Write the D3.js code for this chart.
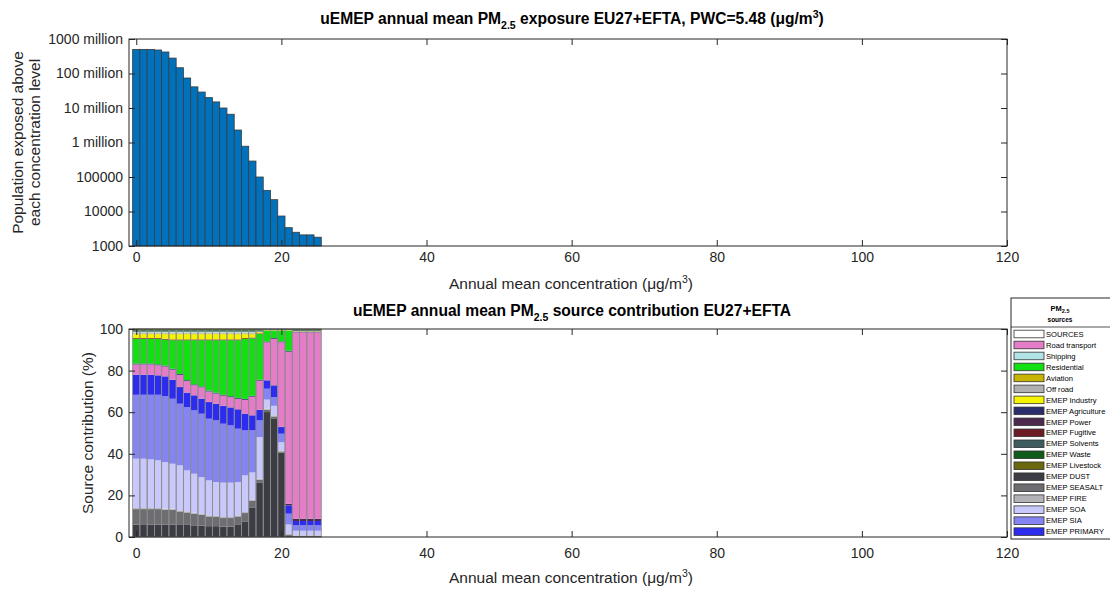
<!DOCTYPE html>
<html>
<head>
<meta charset="utf-8">
<script src="https://cdn.jsdelivr.net/npm/d3@7"></script>
<style>
  body { margin: 0; background: #fff; }
  svg { display: block; font-family: "Liberation Sans", Arial, Helvetica, sans-serif; }
  .tick text { fill: #262626; font-size: 14px; }
  .tick line { stroke: #262626; }
</style>
</head>
<body>
<div id="chart"></div>
<script>
// concentration bins (ug/m3), one bar per bin
var bins = [0, 1, 2, 3, 4, 5, 6, 7, 8, 9, 10, 11, 12, 13, 14, 15, 16, 17, 18, 19, 20, 21, 22, 23, 24, 25];

// population exposed above each concentration level
var popAbove = [5.0e8, 5.0e8, 5.0e8, 4.8e8, 4.2e8, 2.8e8, 1.47e8, 7.4e7, 4.1e7, 2.9e7, 2.0e7, 1.5e7, 1.0e7,
  6.6e6, 2.3e6, 7.8e5, 2.9e5, 1.0e5, 4.1e4, 2.2e4, 7.4e3, 3.4e3, 2.5e3, 2.1e3, 2.1e3, 1.8e3];

var xTicks = [0, 20, 40, 60, 80, 100, 120];
var popTicks = [1e3, 1e4, 1e5, 1e6, 1e7, 1e8, 1e9];
var popTickLabels = ["1000", "10000", "100000", "1 million", "10 million", "100 million", "1000 million"];
var pctTicks = [0, 20, 40, 60, 80, 100];

// source contribution per bin (%), listed bottom to top of the stack
var dust      = [6.0, 6.1, 6.0, 6.0, 6.0, 6.0, 5.8, 5.8, 5.6, 5.5, 5.2, 5.2, 5.0, 5.0, 5.8, 7.5, 14.0, 26.0, 60.0, 57.0, 40.5, 0.8, 0.4, 0.4, 0.4, 0.4];
var seasalt   = [7.4, 7.3, 7.4, 7.4, 7.1, 7.1, 6.5, 6.0, 5.6, 5.2, 4.7, 4.4, 4.1, 4.1, 4.1, 4.0, 3.5, 1.5, 1.1, 0.9, 0.6, 0.4, 0.2, 0.2, 0.2, 0.2];
var fire      = [0.5, 0.5, 0.5, 0.5, 0.5, 0.5, 0.5, 0.5, 0.5, 0.5, 0.5, 0.5, 0.5, 0.5, 0.5, 0.5, 0.5, 0.5, 0.5, 0.5, 0.5, 0.3, 0.2, 0.2, 0.2, 0.2];
var soa       = [23.7, 23.7, 23.4, 22.9, 22.4, 21.6, 21.6, 19.7, 18.7, 17.6, 16.8, 16.3, 16.5, 16.5, 16.0, 17.6, 13.0, 20.0, 4.4, 4.6, 3.9, 4.5, 2.2, 2.2, 2.2, 2.2];
var sia       = [30.7, 30.7, 31.0, 31.5, 31.7, 31.2, 29.6, 30.4, 30.4, 30.4, 29.6, 29.6, 28.3, 27.5, 25.6, 21.6, 20.2, 8.0, 5.2, 4.2, 4.1, 5.2, 2.6, 2.6, 2.6, 2.6];
var primary   = [9.6, 9.6, 9.6, 9.3, 9.4, 9.1, 8.0, 6.9, 7.2, 7.2, 8.0, 8.0, 8.5, 8.6, 9.3, 8.0, 7.2, 5.0, 4.0, 5.6, 3.2, 4.0, 2.1, 2.1, 2.1, 2.1];
var power     = [0.1, 0.1, 0.1, 0.1, 0.1, 0.1, 0.1, 0.1, 0.1, 0.1, 0.1, 0.1, 0.1, 0.1, 0.1, 0.1, 0.1, 0.1, 0.1, 0.1, 0.1, 0.8, 1.1, 1.1, 1.1, 1.1];
var road      = [4.9, 4.9, 4.9, 4.8, 4.7, 4.8, 5.8, 5.5, 4.8, 5.4, 5.0, 4.8, 4.9, 4.9, 5.0, 6.6, 8.9, 14.0, 18.2, 22.2, 40.6, 73.1, 89.6, 89.6, 89.6, 89.6];
var agri      = [0.4, 0.4, 0.4, 0.4, 0.4, 0.4, 0.4, 0.4, 0.4, 0.4, 0.4, 0.4, 0.4, 0.4, 0.4, 0.4, 0.4, 0.4, 0.4, 0.4, 0.4, 0.4, 0.2, 0.2, 0.2, 0.2];
var resid     = [11.8, 11.8, 11.8, 12.2, 12.5, 13.7, 16.2, 19.2, 21.2, 22.2, 24.2, 25.2, 26.2, 26.9, 27.7, 28.8, 27.6, 22.0, 5.2, 3.6, 5.2, 9.7, 0.1, 0.1, 0.1, 0.1];
var fugitive  = [0.4, 0.4, 0.4, 0.4, 0.4, 0.4, 0.4, 0.4, 0.4, 0.4, 0.4, 0.4, 0.4, 0.4, 0.4, 0.4, 0.4, 0.3, 0.1, 0.1, 0.1, 0.1, 0.1, 0.1, 0.1, 0.1];
var industry  = [1.9, 1.9, 1.9, 1.9, 2.2, 2.5, 2.5, 2.5, 2.5, 2.5, 2.5, 2.5, 2.5, 2.5, 2.5, 1.9, 1.6, 0.5, 0.1, 0.1, 0.1, 0.1, 0.1, 0.1, 0.1, 0.1];
var aviation  = [0.3, 0.3, 0.3, 0.3, 0.3, 0.3, 0.3, 0.3, 0.3, 0.3, 0.3, 0.3, 0.3, 0.3, 0.3, 0.3, 0.3, 0.1, 0.05, 0.05, 0.05, 0.05, 0.05, 0.05, 0.05, 0.05];
var offroad   = [0.5, 0.5, 0.5, 0.5, 0.5, 0.5, 0.5, 0.5, 0.5, 0.5, 0.5, 0.5, 0.5, 0.5, 0.5, 0.5, 0.5, 0.2, 0.05, 0.05, 0.05, 0.05, 0.05, 0.05, 0.05, 0.05];
var shipping  = [0.4, 0.4, 0.4, 0.4, 0.4, 0.4, 0.4, 0.4, 0.4, 0.4, 0.4, 0.4, 0.4, 0.4, 0.4, 0.4, 0.4, 0.1, 0.05, 0.05, 0.05, 0.05, 0.1, 0.1, 0.1, 0.1];
var solvents  = [0.5, 0.5, 0.5, 0.5, 0.5, 0.5, 0.5, 0.5, 0.5, 0.5, 0.5, 0.5, 0.5, 0.5, 0.5, 0.5, 0.5, 0.5, 0.2, 0.2, 0.2, 0.2, 0.4, 0.4, 0.4, 0.4];
var waste     = [0.4, 0.4, 0.4, 0.4, 0.4, 0.4, 0.4, 0.4, 0.4, 0.4, 0.4, 0.4, 0.4, 0.4, 0.4, 0.4, 0.4, 0.4, 0.15, 0.15, 0.15, 0.15, 0.3, 0.3, 0.3, 0.3];
var livestock = [0.4, 0.4, 0.4, 0.4, 0.4, 0.4, 0.4, 0.4, 0.4, 0.4, 0.4, 0.4, 0.4, 0.4, 0.4, 0.4, 0.4, 0.3, 0.1, 0.1, 0.1, 0.1, 0.2, 0.2, 0.2, 0.2];

var sources = [
  { name: "EMEP DUST", color: "#3c3c44", values: dust },
  { name: "EMEP SEASALT", color: "#6e6e72", values: seasalt },
  { name: "EMEP FIRE", color: "#b4b4b8", values: fire },
  { name: "EMEP SOA", color: "#c8c8fa", values: soa },
  { name: "EMEP SIA", color: "#8484f2", values: sia },
  { name: "EMEP PRIMARY", color: "#2c2cf0", values: primary },
  { name: "EMEP Power", color: "#4c2a4e", values: power },
  { name: "Road transport", color: "#e47cc8", values: road },
  { name: "EMEP Agriculture", color: "#2a2e6c", values: agri },
  { name: "Residential", color: "#12e012", values: resid },
  { name: "EMEP Fugitive", color: "#6c1c24", values: fugitive },
  { name: "EMEP Industry", color: "#f4f400", values: industry },
  { name: "Aviation", color: "#c8b400", values: aviation },
  { name: "Off road", color: "#b0b0b0", values: offroad },
  { name: "Shipping", color: "#b0e2e6", values: shipping },
  { name: "EMEP Solvents", color: "#3e5c5e", values: solvents },
  { name: "EMEP Waste", color: "#0e5c1a", values: waste },
  { name: "EMEP Livestock", color: "#6a680e", values: livestock }
];

var legendOrder = ["SOURCES", "Road transport", "Shipping", "Residential", "Aviation", "Off road",
  "EMEP Industry", "EMEP Agriculture", "EMEP Power", "EMEP Fugitive", "EMEP Solvents", "EMEP Waste",
  "EMEP Livestock", "EMEP DUST", "EMEP SEASALT", "EMEP FIRE", "EMEP SOA", "EMEP SIA", "EMEP PRIMARY"];

var svg = d3.select("#chart").append("svg").attr("width", 1110).attr("height", 592);

var left = 129, right = 1007;
var topY0 = 39, topY1 = 246, botY0 = 329, botY1 = 537;

var x = d3.scaleLinear().domain([-1, 120]).range([left, right]);
var yPop = d3.scaleLog().domain([1e3, 1e9]).range([topY1, topY0]);
var yPct = d3.scaleLinear().domain([0, 1]).range([botY1, botY0]);
var colorByName = {};
sources.forEach(function (s) { colorByName[s.name] = s.color; });
colorByName["SOURCES"] = "#ffffff";

// ---- top panel: population above level (log) ----
svg.append("g")
  .selectAll("rect")
  .data(bins)
  .enter()
  .append("rect")
  .attr("x", function (d) { return x(d - 0.5); })
  .attr("width", x(0.5) - x(-0.5))
  .attr("y", function (d, i) { return yPop(popAbove[i]); })
  .attr("height", function (d, i) { return yPop(1e3) - yPop(popAbove[i]); })
  .attr("fill", "#0072bd")
  .attr("stroke", "#3b3b3b")
  .attr("stroke-width", 0.8);

// ---- bottom panel: stacked source contribution ----
var rows = bins.map(function (b, i) {
  var r = { bin: b };
  sources.forEach(function (s) { r[s.name] = s.values[i]; });
  return r;
});
var stacked = d3.stack()
  .keys(sources.map(function (s) { return s.name; }))
  .offset(d3.stackOffsetExpand)(rows);

svg.append("g")
  .selectAll("g")
  .data(stacked)
  .enter()
  .append("g")
  .attr("fill", function (d) { return colorByName[d.key]; })
  .selectAll("rect")
  .data(function (d) { return d; })
  .enter()
  .append("rect")
  .attr("x", function (d) { return x(d.data.bin - 0.5); })
  .attr("width", x(0.5) - x(-0.5))
  .attr("y", function (d) { return yPct(d[1]); })
  .attr("height", function (d) { return yPct(d[0]) - yPct(d[1]); });

// thin grey bar outlines
svg.append("g")
  .selectAll("rect")
  .data(bins)
  .enter()
  .append("rect")
  .attr("x", function (d) { return x(d - 0.5); })
  .attr("width", x(0.5) - x(-0.5))
  .attr("y", yPct(1))
  .attr("height", yPct(0) - yPct(1))
  .attr("fill", "none")
  .attr("stroke", "#8a8a8a")
  .attr("stroke-width", 0.8);

// axes in matlab style: inward ticks, full box
function drawFrame(y, y0, y1, yTicks, yFormat, xPad) {
  var g = svg.append("g");
  g.append("g")
    .attr("transform", "translate(0," + y1 + ")")
    .call(d3.axisBottom(x).tickValues(xTicks).tickSize(-6).tickPadding(xPad))
    .call(function (a) { a.select(".domain").remove(); });
  g.append("g")
    .attr("transform", "translate(0," + y0 + ")")
    .call(d3.axisTop(x).tickValues(xTicks).tickSize(-6).tickFormat(""))
    .call(function (a) { a.select(".domain").remove(); });
  g.append("g")
    .attr("transform", "translate(" + left + ",0)")
    .call(d3.axisLeft(y).tickValues(yTicks).tickSize(-6).tickPadding(6).tickFormat(yFormat))
    .call(function (a) { a.select(".domain").remove(); });
  g.append("g")
    .attr("transform", "translate(" + right + ",0)")
    .call(d3.axisRight(y).tickValues(yTicks).tickSize(-6).tickFormat(""))
    .call(function (a) { a.select(".domain").remove(); });
  g.append("rect")
    .attr("x", left).attr("y", y0)
    .attr("width", right - left).attr("height", y1 - y0)
    .attr("fill", "none").attr("stroke", "#262626").attr("stroke-width", 1);
  g.selectAll(".tick text").attr("font-family", null).attr("font-size", null);
}

drawFrame(yPop, topY0, topY1, popTicks, function (d) {
  return popTickLabels[popTicks.indexOf(d)];
}, 6);
drawFrame(yPct, botY0, botY1, pctTicks.map(function (p) { return p / 100; }), function (d) {
  return Math.round(d * 100);
}, 11);

// titles and axis labels
function title(yPos, parts) {
  var t = svg.append("text")
    .attr("x", (left + right) / 2 + 4)
    .attr("y", yPos)
    .attr("text-anchor", "middle")
    .attr("font-weight", "bold")
    .attr("font-size", 15.6)
    .attr("fill", "#000");
  parts.forEach(function (p) {
    t.append("tspan").attr("font-size", p.size || null).attr("dy", p.dy || 0).text(p.text);
  });
}
title(24, [
  { text: "uEMEP annual mean PM" },
  { text: "2.5", size: 10.5, dy: 5 },
  { text: " exposure EU27+EFTA, PWC=5.48 (\u03bcg/m", dy: -5 },
  { text: "3", size: 10.5, dy: -6 },
  { text: ")", dy: 6 }
]);
title(316, [
  { text: "uEMEP annual mean PM" },
  { text: "2.5", size: 10.5, dy: 5 },
  { text: " source contribution EU27+EFTA", dy: -5 }
]);

function xLabel(yPos) {
  var t = svg.append("text")
    .attr("x", (left + right) / 2 + 3)
    .attr("y", yPos)
    .attr("text-anchor", "middle")
    .attr("font-size", 15.5)
    .attr("fill", "#262626");
  t.append("tspan").text("Annual mean concentration (\u03bcg/m");
  t.append("tspan").attr("font-size", 10.5).attr("dy", -6).text("3");
  t.append("tspan").attr("dy", 6).text(")");
}
xLabel(289);
xLabel(583);

function yLabel(xPos, yMid, lines) {
  var t = svg.append("text")
    .attr("transform", "translate(" + xPos + "," + yMid + ") rotate(-90)")
    .attr("text-anchor", "middle")
    .attr("font-size", 15.5)
    .attr("fill", "#262626");
  lines.forEach(function (l, i) {
    t.append("tspan").attr("x", 0).attr("dy", i === 0 ? 0 : 17).text(l);
  });
}
yLabel(23, (topY0 + topY1) / 2, ["Population exposed above", "each concentration level"]);
yLabel(93, (botY0 + botY1) / 2, ["Source contribution (%)"]);

// ---- legend ----
var lg = svg.append("g");
lg.append("rect")
  .attr("x", 1011).attr("y", 298)
  .attr("width", 120).attr("height", 241)
  .attr("fill", "#fff").attr("stroke", "#262626").attr("stroke-width", 1);
lg.append("line")
  .attr("x1", 1011).attr("x2", 1110)
  .attr("y1", 327).attr("y2", 327)
  .attr("stroke", "#262626").attr("stroke-width", 0.8);
var hd = lg.append("text")
  .attr("x", 1060).attr("y", 311)
  .attr("text-anchor", "middle").attr("font-size", 7.5).attr("font-weight", "bold");
hd.append("tspan").text("PM");
hd.append("tspan").attr("font-size", 5.5).attr("dy", 2).text("2.5");
lg.append("text")
  .attr("x", 1060).attr("y", 322)
  .attr("text-anchor", "middle").attr("font-size", 6.5).attr("font-weight", "bold")
  .text("sources");

var item = lg.selectAll("g.item")
  .data(legendOrder)
  .enter()
  .append("g")
  .attr("class", "item")
  .attr("transform", function (d, i) { return "translate(0," + (334 + i * 10.98) + ")"; });
item.append("rect")
  .attr("x", 1014).attr("y", -3.8)
  .attr("width", 30).attr("height", 7.6)
  .attr("fill", function (d) { return colorByName[d]; })
  .attr("stroke", "#333").attr("stroke-width", 0.8);
item.append("text")
  .attr("x", 1046).attr("y", 0).attr("dy", "0.35em")
  .attr("font-size", 7.6).attr("fill", "#000")
  .text(function (d) { return d; });
</script>
</body>
</html>
